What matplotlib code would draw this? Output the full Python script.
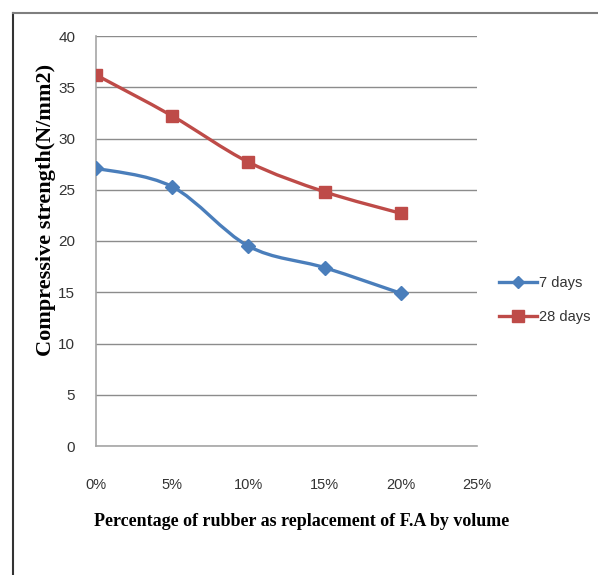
import matplotlib
matplotlib.use("Agg")
import matplotlib.pyplot as plt
from matplotlib.path import Path
from matplotlib.patches import PathPatch
from matplotlib.lines import Line2D
import numpy as np

# data
pct = [0, 5, 10, 15, 20]
days7 = [27.1, 25.3, 19.5, 17.4, 14.9]
days28 = [36.2, 32.2, 27.7, 24.8, 22.7]
xticks = [0, 5, 10, 15, 20, 25]
yticks = [0, 5, 10, 15, 20, 25, 30, 35, 40]

blue = "#4A7EBB"
red = "#BE4B48"
tick_font = ["Liberation Sans", "DejaVu Sans"]


def smooth_path(xs, ys):
    # Excel-like smoothed line: cubic bezier with catmull-rom control points
    p = np.column_stack([xs, ys]).astype(float)
    verts = [p[0]]
    codes = [Path.MOVETO]
    n = len(p)
    for i in range(n - 1):
        p0 = p[i - 1] if i > 0 else p[i]
        p1, p2 = p[i], p[i + 1]
        p3 = p[i + 2] if i + 2 < n else p[i + 1]
        c1 = p1 + (p2 - p0) / 6
        c2 = p2 - (p3 - p1) / 6
        verts += [c1, c2, p2]
        codes += [Path.CURVE4] * 3
    return Path(verts, codes)


fig = plt.figure(figsize=(5.98, 5.75), dpi=100)
ax = fig.add_axes([96 / 598, 1 - 446 / 575, 381 / 598, 410 / 575])

for ys, col, mk, ms in [(days7, blue, "D", 7), (days28, red, "s", 9)]:
    ax.add_patch(PathPatch(smooth_path(pct, ys), fill=False, edgecolor=col,
                           lw=2.4, zorder=3, capstyle="round", joinstyle="round"))
    ax.plot(pct, ys, ls="none", marker=mk, ms=ms, color=col, zorder=4)

ax.set_xlim(0, 25)
ax.set_ylim(0, 40)
ax.set_xticks(xticks)
ax.set_xticklabels([f"{v}%" for v in xticks], family=tick_font, fontsize=10.5)
ax.set_yticks(yticks)
ax.set_yticklabels([str(v) for v in yticks], family=tick_font, fontsize=11)
ax.tick_params(axis="both", length=0, colors="#333333")
ax.tick_params(axis="x", pad=23)
ax.tick_params(axis="y", pad=15)
ax.grid(axis="y", color="#8c8c8c", lw=1)
ax.set_axisbelow(True)
for s in ["top", "right"]:
    ax.spines[s].set_visible(False)
for s in ["left", "bottom"]:
    ax.spines[s].set_color("#a6a6a6")
    ax.spines[s].set_linewidth(1.2)

handles = [
    Line2D([], [], color=blue, lw=2.4, marker="D", ms=6),
    Line2D([], [], color=red, lw=2.4, marker="s", ms=8),
]
fig.legend(handles, ["7 days", "28 days"], loc="center left",
           bbox_to_anchor=(486 / 598, 1 - 300 / 575), frameon=False,
           prop={"family": tick_font, "size": 10.5}, handlelength=2.6,
           handletextpad=0.15, labelspacing=1.4, labelcolor="#333333")

fig.text(302 / 598, 1 - 521 / 575, "Percentage of rubber as replacement of F.A by volume",
         ha="center", va="center", family="Liberation Serif", weight="bold", fontsize=13)
fig.text(46 / 598, 1 - 210 / 575, "Compressive strength(N/mm2)", rotation=90,
         ha="center", va="center", family="Liberation Serif", weight="bold", fontsize=16)

# outer frame (left and top edges only)
fig.add_artist(Line2D([13 / 598, 13 / 598], [0, 1 - 13 / 575], color="#333333",
                      lw=1.5, transform=fig.transFigure))
fig.add_artist(Line2D([13 / 598, 1], [1 - 13 / 575, 1 - 13 / 575], color="#7f7f7f",
                      lw=1.5, transform=fig.transFigure))

fig.savefig("out.png", dpi=100)
